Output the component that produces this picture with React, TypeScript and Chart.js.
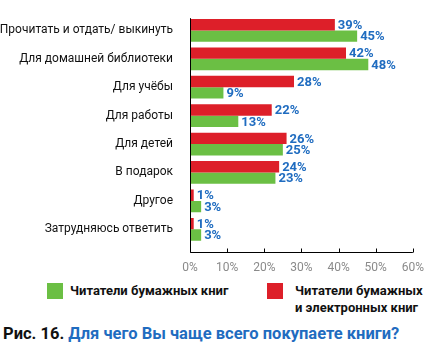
import React, { useEffect, useRef } from "react";
import { Chart, registerables } from "chart.js";
Chart.register(...registerables);

const categories = [
  "Прочитать и отдать/ выкинуть",
  "Для домашней библиотеки",
  "Для учёбы",
  "Для работы",
  "Для детей",
  "В подарок",
  "Другое",
  "Затрудняюсь ответить",
];
const paperAndEbookReaders = [39, 42, 28, 22, 26, 24, 1, 1];
const paperReaders = [45, 48, 9, 13, 25, 23, 3, 3];
const xTickValues = [0, 10, 20, 30, 40, 50, 60];

const RED = "#dd1f29";
const GREEN = "#6bbf44";
const BLUE = "#1f6cc0";
const FONT = "Roboto, sans-serif";

const valueLabels = {
  id: "valueLabels",
  afterDatasetsDraw(chart: any) {
    const { ctx } = chart;
    ctx.save();
    ctx.font = `bold 13px ${FONT}`;
    ctx.fillStyle = BLUE;
    ctx.textBaseline = "middle";
    ctx.textAlign = "left";
    chart.data.datasets.forEach((ds: any, di: number) => {
      const meta = chart.getDatasetMeta(di);
      meta.data.forEach((el: any, i: number) => {
        ctx.fillText(ds.data[i] + "%", el.x + 3, el.y + 1);
      });
    });
    ctx.restore();
  },
};

const axesLines = {
  id: "axesLines",
  afterDraw(chart: any) {
    const { ctx, chartArea } = chart;
    const xs = chart.scales.x;
    const bottom = Math.round(chartArea.bottom + 8) + 0.5;
    const left = Math.round(chartArea.left) + 0.5;
    ctx.save();
    ctx.strokeStyle = "#000";
    ctx.lineWidth = 1;
    ctx.beginPath();
    ctx.moveTo(left, chartArea.top + 2);
    ctx.lineTo(left, bottom);
    ctx.lineTo(chartArea.right, bottom);
    xs.ticks.forEach((_t: any, i: number) => {
      const px = Math.round(xs.getPixelForTick(i)) + 0.5;
      ctx.moveTo(px, bottom);
      ctx.lineTo(px, bottom - 4);
    });
    ctx.stroke();
    ctx.restore();
  },
};

export default function App() {
  const ref = useRef<HTMLCanvasElement>(null);
  useEffect(() => {
    const chart = new Chart(ref.current!, {
      type: "bar",
      data: {
        labels: categories,
        datasets: [
          {
            label: "Читатели бумажных и электронных книг",
            data: paperAndEbookReaders,
            backgroundColor: RED,
            categoryPercentage: 0.8,
            barPercentage: 1,
          },
          {
            label: "Читатели бумажных книг",
            data: paperReaders,
            backgroundColor: GREEN,
            categoryPercentage: 0.8,
            barPercentage: 1,
          },
        ],
      },
      options: {
        indexAxis: "y",
        animation: false,
        responsive: false,
        maintainAspectRatio: false,
        layout: { padding: { top: 11, right: 5, left: 0, bottom: 0 } },
        plugins: { legend: { display: false }, tooltip: { enabled: false } },
        scales: {
          x: {
            min: 0,
            max: 60,
            afterBuildTicks: (s: any) => {
              s.ticks = xTickValues.map((v) => ({ value: v }));
            },
            afterFit: (s: any) => {
              s.height = 31.5;
            },
            grid: { display: false },
            border: { display: false },
            ticks: {
              padding: 9,
              color: "#8a8a8a",
              font: { family: FONT, size: 12 },
              callback: (v: any) => v + "%",
            },
          },
          y: {
            afterFit: (s: any) => {
              s.width = 190;
            },
            grid: { display: false },
            border: { display: false },
            ticks: {
              padding: 9,
              color: "#111",
              font: { family: FONT, size: 12 },
            },
          },
        },
      },
      plugins: [valueLabels, axesLines],
    });
    return () => chart.destroy();
  }, []);

  const legendText: React.CSSProperties = {
    position: "absolute",
    font: `bold 13px ${FONT}`,
    lineHeight: "17px",
    color: "#111",
    whiteSpace: "nowrap",
  };

  return (
    <div
      style={{
        position: "fixed",
        left: 0,
        top: 0,
        width: 433,
        height: 350,
        background: "#fff",
        overflow: "hidden",
      }}
    >
      <canvas ref={ref} width={433} height={275} style={{ position: "absolute", left: 0, top: 0 }} />
      <div style={{ position: "absolute", left: 47, top: 283, width: 16, height: 16, background: GREEN }} />
      <div style={{ ...legendText, left: 70, top: 282 }}>Читатели бумажных книг</div>
      <div style={{ position: "absolute", left: 267, top: 283, width: 16, height: 16, background: RED }} />
      <div style={{ ...legendText, left: 295, top: 282 }}>
        Читатели бумажных
        <br />и электронных книг
      </div>
      <div
        style={{
          position: "absolute",
          left: 3,
          top: 324,
          font: `bold 16.5px ${FONT}`,
          color: "#111",
          whiteSpace: "nowrap",
        }}
      >
        Рис. 16. <span style={{ color: BLUE }}>Для чего Вы чаще всего покупаете книги?</span>
      </div>
    </div>
  );
}
